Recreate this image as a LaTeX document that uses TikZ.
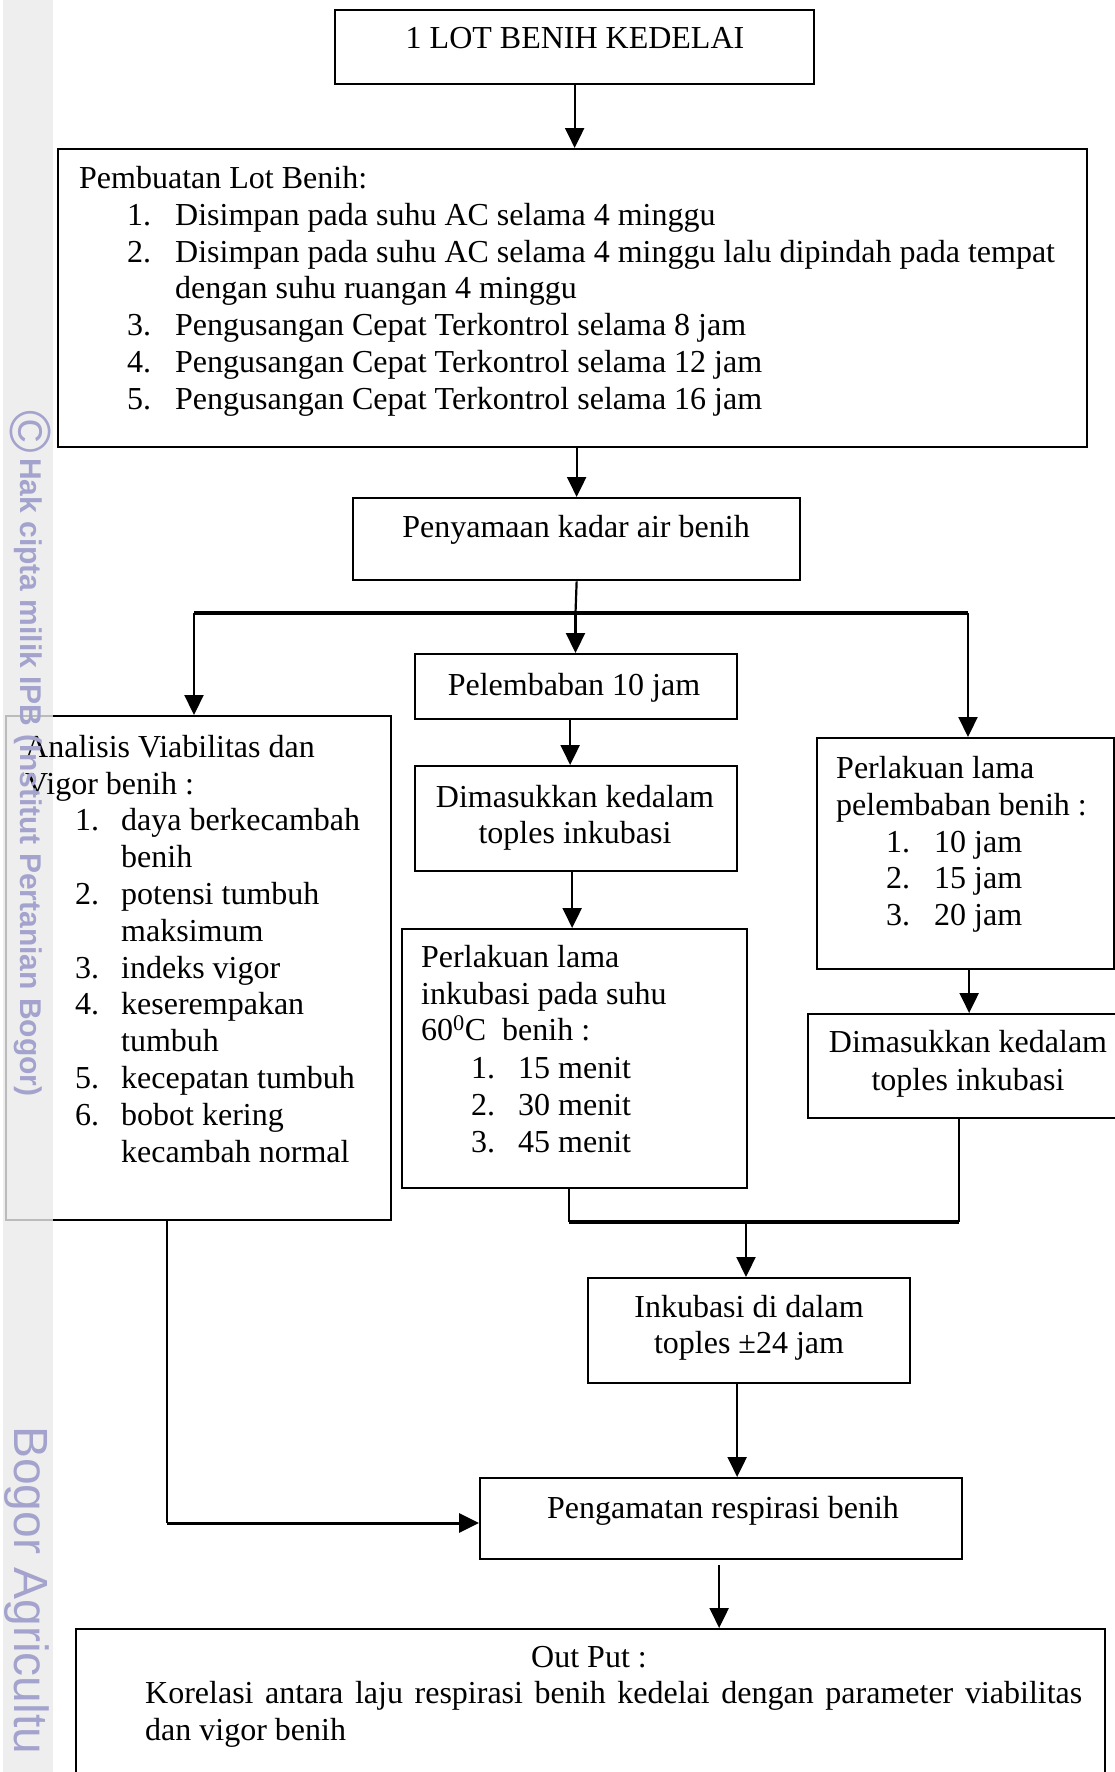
\documentclass[tikz,border=0pt]{standalone}
\usepackage{fontspec}
\setmainfont{Liberation Serif}
\newfontfamily\wmfont{Liberation Sans}
\usetikzlibrary{arrows.meta}
\definecolor{wmtext}{RGB}{163,163,205}
\definecolor{wmstrip}{RGB}{234,234,234}
\begin{document}
\begin{tikzpicture}[x=1pt,y=-1pt,
  box/.style={draw, line width=2.3pt, inner sep=0pt, anchor=north west},
  txt/.style={anchor=base west, inner sep=0pt},
  ctxt/.style={anchor=base, inner sep=0pt},
  conn/.style={line width=2.2pt},
  arr/.style={line width=2.2pt, -{Triangle[width=19pt,length=20pt]}},
  bar/.style={line width=3.4pt},
  barr/.style={line width=3pt, -{Triangle[width=19pt,length=20pt]}},
  wm/.style={text=wmtext, inner sep=0pt},
  font=\fontsize{32}{36.8}\selectfont]
\useasboundingbox (0,0) rectangle (1115,1772);
\begin{scope}
\clip (0,0) rectangle (1115,1772);
% boxes
\node[box, minimum width=479pt, minimum height=74pt] (b1) at (334,9) {};
\node[box, minimum width=1029pt, minimum height=298pt] (b2) at (57,148) {};
\node[box, minimum width=447pt, minimum height=82pt] (b3) at (352,497) {};
\node[box, minimum width=322pt, minimum height=65pt] (pel) at (414,653) {};
\node[box, minimum width=322pt, minimum height=105pt] (dim1) at (414,765) {};
\node[box, minimum width=345pt, minimum height=259pt] (inc1) at (401,928) {};
\node[box, minimum width=385pt, minimum height=504pt] (ana) at (5,715) {};
\node[box, minimum width=297pt, minimum height=231pt] (plr) at (816,737) {};
\node[box, minimum width=318pt, minimum height=104pt] (dim2) at (807,1013) {};
\node[box, minimum width=322pt, minimum height=105pt] (ink) at (587,1277) {};
\node[box, minimum width=482pt, minimum height=81pt] (peng) at (479,1477) {};
\node[box, minimum width=1029pt, minimum height=172pt] (out) at (75,1628) {};
% connectors
\draw[arr] (b1.south) -- (b1.south |- b2.north);
\draw[arr] (b3.north |- b2.south) -- (b3.north);
\coordinate (br) at (575.5,613);
\coordinate (brL) at (194,613);
\coordinate (brR) at (968,613);
\draw[conn] (b3.south) -- (br);
\draw[bar] (brL) -- (brR);
\draw[arr] (brL) -- (brL |- ana.north);
\draw[arr] (br) -- (br |- pel.north);
\draw[arr] (brR) -- (brR |- plr.north);
\draw[arr] ([xshift=-6pt]pel.south) -- ([xshift=-6pt]dim1.north);
\draw[arr] ([xshift=-4pt]dim1.south) -- ([xshift=-4pt]dim1.south |- inc1.north);
\draw[arr] ([xshift=3.5pt]plr.south) -- ([xshift=3.5pt]plr.south |- dim2.north);
\coordinate (mL) at (569,1222);
\coordinate (mR) at (959,1222);
\coordinate (mC) at (746,1222);
\draw[conn] (inc1.south -| mL) -- (mL);
\draw[conn] (dim2.south -| mR) -- (mR);
\draw[bar] (mL) -- (mR);
\draw[arr] (mC) -- (mC |- ink.north);
\draw[arr] ([xshift=-12pt]ink.south) -- ([xshift=-12pt]ink.south |- peng.north);
\coordinate (aC) at (167,1523);
\draw[conn] (ana.south -| aC) -- (aC);
\draw[barr] (aC) -- (aC -| peng.west);
\draw[arr] ([xshift=-2pt,yshift=-5pt]peng.south) -- ([xshift=-2pt]peng.south |- out.north);
% watermark strip
\fill[wmstrip, opacity=0.8] (3,0) rectangle (53,1772);
% texts
\node[ctxt] (t1) at (575,48) {1 LOT BENIH KEDELAI};
\node[txt] (t2a) at (79,188) {Pembuatan Lot Benih:};
\node[txt] (t2b) at (127,225) {\makebox[48pt][l]{1.}Disimpan pada suhu AC selama 4 minggu};
\node[txt] (t2c) at (127,262) {\makebox[48pt][l]{2.}Disimpan pada suhu AC selama 4 minggu lalu dipindah pada tempat};
\node[txt] (t2d) at (175,298) {dengan suhu ruangan 4 minggu};
\node[txt] (t2e) at (127,335) {\makebox[48pt][l]{3.}Pengusangan Cepat Terkontrol selama 8 jam};
\node[txt] (t2f) at (127,372) {\makebox[48pt][l]{4.}Pengusangan Cepat Terkontrol selama 12 jam};
\node[txt] (t2g) at (127,409) {\makebox[48pt][l]{5.}Pengusangan Cepat Terkontrol selama 16 jam};
\node[ctxt] (t3) at (576,537) {Penyamaan kadar air benih};
\node[ctxt] (tpel) at (574,695) {Pelembaban 10 jam};
\node[ctxt] (tdim1a) at (575,807) {Dimasukkan kedalam};
\node[ctxt] (tdim1b) at (575,843) {toples inkubasi};
\node[txt] (tana1) at (25,757) {Analisis Viabilitas dan};
\node[txt] (tana2) at (25,794) {Vigor benih :};
\node[txt] (tana3) at (75,830) {\makebox[46pt][l]{1.}daya berkecambah};
\node[txt] (tana4) at (121,867) {benih};
\node[txt] (tana5) at (75,904) {\makebox[46pt][l]{2.}potensi tumbuh};
\node[txt] (tana6) at (121,941) {maksimum};
\node[txt] (tana7) at (75,978) {\makebox[46pt][l]{3.}indeks vigor};
\node[txt] (tana8) at (75,1014) {\makebox[46pt][l]{4.}keserempakan};
\node[txt] (tana9) at (121,1051) {tumbuh};
\node[txt] (tana10) at (75,1088) {\makebox[46pt][l]{5.}kecepatan tumbuh};
\node[txt] (tana11) at (75,1125) {\makebox[46pt][l]{6.}bobot kering};
\node[txt] (tana12) at (121,1162) {kecambah normal};
\node[txt] (tplr1) at (836,778) {Perlakuan lama};
\node[txt] (tplr2) at (836,815) {pelembaban benih :};
\node[txt] (tplr3) at (886,852) {\makebox[48pt][l]{1.}10 jam};
\node[txt] (tplr4) at (886,888) {\makebox[48pt][l]{2.}15 jam};
\node[txt] (tplr5) at (886,925) {\makebox[48pt][l]{3.}20 jam};
\node[txt] (tinc1) at (421,967) {Perlakuan lama};
\node[txt] (tinc2) at (421,1004) {inkubasi pada suhu};
\node[txt] (tinc3) at (421,1040) {60\textsuperscript{0}C\ \ benih :};
\node[txt] (tinc4) at (471,1078) {\makebox[47pt][l]{1.}15 menit};
\node[txt] (tinc5) at (471,1115) {\makebox[47pt][l]{2.}30 menit};
\node[txt] (tinc6) at (471,1152) {\makebox[47pt][l]{3.}45 menit};
\node[ctxt] (tdim2a) at (968,1052) {Dimasukkan kedalam};
\node[ctxt] (tdim2b) at (968,1090) {toples inkubasi};
\node[ctxt] (tink1) at (749,1317) {Inkubasi di dalam};
\node[ctxt] (tink2) at (749,1353) {toples ±24 jam};
\node[ctxt] (tpeng) at (723,1518) {Pengamatan respirasi benih};
\node[ctxt] (tout1) at (589,1667) {Out Put :};
\node[txt] (tout2) at (145,1703) {\makebox[937pt][s]{Korelasi antara laju respirasi benih kedelai dengan parameter viabilitas}};
\node[txt] (tout3) at (145,1740) {dan vigor benih};
% watermark texts
\node[wm, font=\wmfont\fontsize{58}{58}\selectfont, rotate=-90] (wmc) at (31,432) {©};
\node[wm, font=\wmfont\bfseries\fontsize{30}{30}\selectfont, rotate=-90, anchor=base west] (wm1) at (20,458) {Hak cipta milik IPB (Institut Pertanian Bogor)};
\node[wm, font=\wmfont\fontsize{48}{48}\selectfont, rotate=-90, anchor=base west] (wm2) at (14,1426) {Bogor Agricultu};
\end{scope}
\end{tikzpicture}
\end{document}
